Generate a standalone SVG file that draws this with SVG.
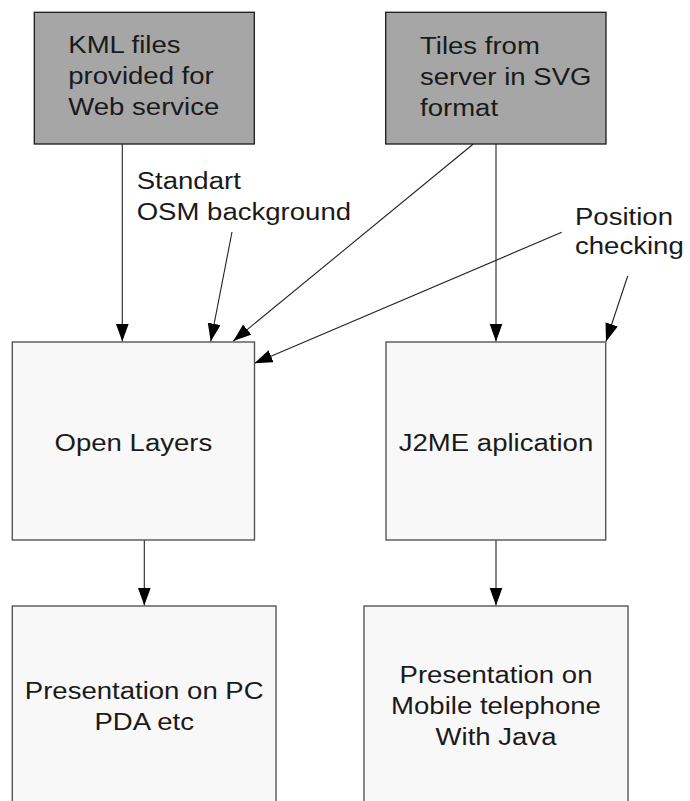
<svg xmlns="http://www.w3.org/2000/svg" width="690" height="801" viewBox="0 0 690 801">
<style>
.src{fill:#a6a6a6;stroke:#1a1a1a;stroke-width:1.3}
.box{fill:#f8f8f8;stroke:#555;stroke-width:1.4}
.t{font-family:"Liberation Sans",Arial,sans-serif;font-size:24.6px;fill:#1a1a1a}
.c{text-anchor:middle}
.ln{stroke:#222;stroke-width:1.1;fill:none;marker-end:url(#ah)}
</style>
<defs>
<marker id="ah" markerUnits="userSpaceOnUse" markerWidth="19" markerHeight="14" refX="18" refY="6.5" orient="auto">
<path d="M0,0 L18,6.5 L0,13 z" fill="#000"/>
</marker>
</defs>
<rect width="690" height="801" fill="#fff"/>
<g id="connectors">
<line class="ln" x1="122.3" y1="144" x2="122.3" y2="341.5"/>
<line class="ln" x1="232" y1="232" x2="210.7" y2="341.5"/>
<line class="ln" x1="473.3" y1="144" x2="233.3" y2="341"/>
<line class="ln" x1="561.7" y1="232.3" x2="254.5" y2="363.3"/>
<line class="ln" x1="496" y1="144" x2="496" y2="341.5"/>
<line class="ln" x1="627.7" y1="276" x2="606" y2="341.5"/>
<line class="ln" x1="144.3" y1="540" x2="144.3" y2="605.5"/>
<line class="ln" x1="496" y1="540" x2="496" y2="605.5"/>
</g>
<g id="kml">
<rect class="src" x="34.3" y="12.3" width="220" height="131.7"/>
<text class="t" transform="matrix(1.12 0 0 1 68.3 53.3)"><tspan x="0" y="0">KML files</tspan><tspan x="0" y="31">provided for</tspan><tspan x="0" y="62">Web service</tspan></text>
</g>
<g id="tiles">
<rect class="src" x="385.7" y="12.3" width="220.3" height="131.7"/>
<text class="t" transform="matrix(1.12 0 0 1 420 54)"><tspan x="0" y="0">Tiles from</tspan><tspan x="0" y="31">server in SVG</tspan><tspan x="0" y="62">format</tspan></text>
</g>
<g id="label-osm">
<text class="t" transform="matrix(1.12 0 0 1 136.7 189.3)"><tspan x="0" y="0">Standart</tspan><tspan x="0" y="31">OSM background</tspan></text>
</g>
<g id="label-position">
<text class="t" transform="matrix(1.12 0 0 1 575 225)"><tspan x="0" y="0">Position</tspan><tspan x="0" y="29.5">checking</tspan></text>
</g>
<g id="openlayers">
<rect class="box" x="12.3" y="342" width="242.2" height="198"/>
<text class="t c" transform="matrix(1.12 0 0 1 133.4 451)">Open Layers</text>
</g>
<g id="j2me">
<rect class="box" x="386" y="342" width="219.7" height="198"/>
<text class="t c" transform="matrix(1.12 0 0 1 496 451)">J2ME aplication</text>
</g>
<g id="pc">
<rect class="box" x="12.3" y="606" width="263.7" height="220"/>
<text class="t c" transform="matrix(1.12 0 0 1 144.2 699)"><tspan x="0" y="0">Presentation on PC</tspan><tspan x="0" y="31">PDA etc</tspan></text>
</g>
<g id="mobile">
<rect class="box" x="364" y="606" width="264" height="220"/>
<text class="t c" transform="matrix(1.12 0 0 1 496 683)"><tspan x="0" y="0">Presentation on</tspan><tspan x="0" y="31">Mobile telephone</tspan><tspan x="0" y="62">With Java</tspan></text>
</g>
</svg>
